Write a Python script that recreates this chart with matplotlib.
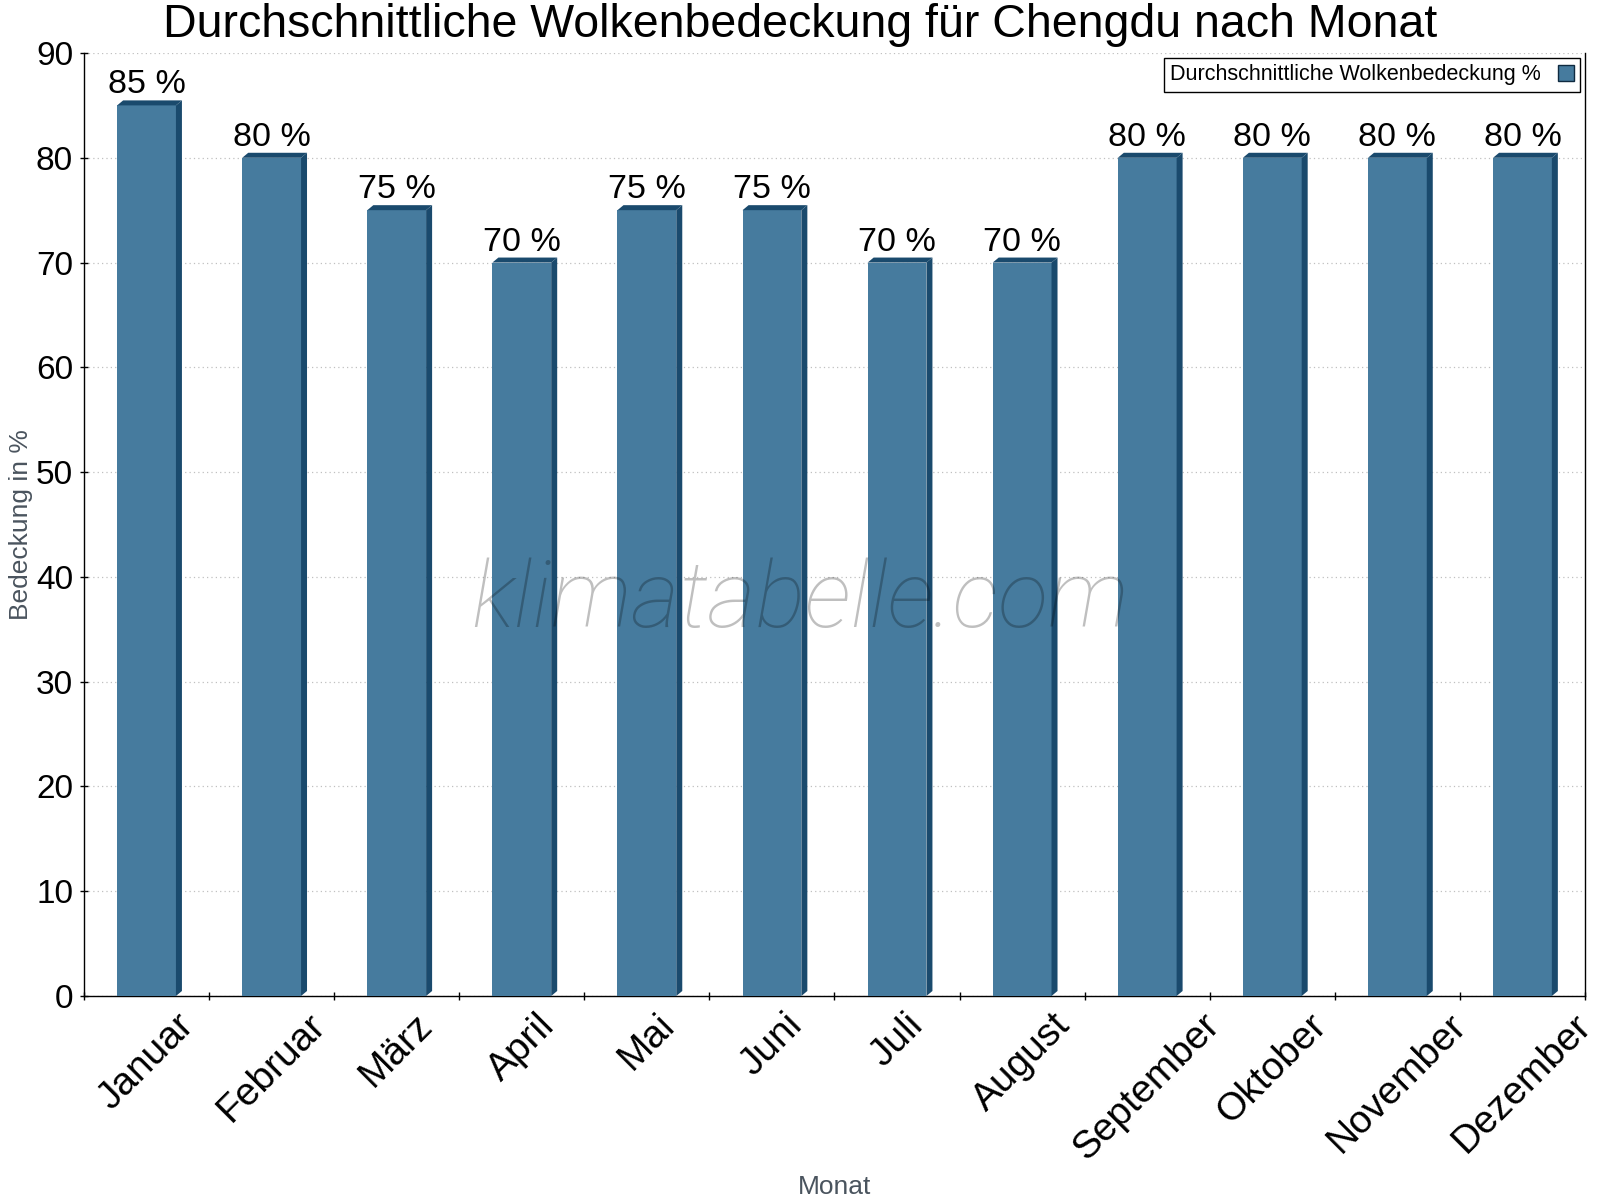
import numpy as np
import matplotlib
matplotlib.use("Agg")
import matplotlib.pyplot as plt
from matplotlib.patches import Polygon, Patch

months = ["Januar", "Februar", "März", "April", "Mai", "Juni", "Juli",
          "August", "September", "Oktober", "November", "Dezember"]
cover = [85, 80, 75, 70, 75, 75, 70, 70, 80, 80, 80, 80]
value_labels = [f"{v} %" for v in cover]

FRONT = "#467b9e"
DARK = "#1a4a6d"

plt.rcParams["font.family"] = ["Liberation Sans", "DejaVu Sans"]

fig = plt.figure(figsize=(16, 12), dpi=100)
ax = fig.add_axes([84 / 1600, 1 - 996 / 1200, (1585 - 84) / 1600, (996 - 53) / 1200])

x = np.arange(len(months))
width = 0.47
ax.set_xlim(-0.5, 11.5)
ax.set_ylim(0, 90)

# depth of the fake 3D faces, in data units (about 6 px right, 5 px up)
dx = 6 / (1501 / 12)
dy = 5 / (943 / 90)

ax.bar(x, cover, width=width, color=FRONT, zorder=3)
for xi, v in zip(x, cover):
    x0, x1 = xi - width / 2, xi + width / 2
    side = Polygon([(x1, 0), (x1 + dx, dy), (x1 + dx, v + dy), (x1, v)],
                   closed=True, facecolor=DARK, edgecolor="none", zorder=3)
    top = Polygon([(x0, v), (x1, v), (x1 + dx, v + dy), (x0 + dx, v + dy)],
                  closed=True, facecolor=DARK, edgecolor="none", zorder=3)
    ax.add_patch(side)
    ax.add_patch(top)

for xi, v, lab in zip(x, cover, value_labels):
    ax.annotate(lab, (xi, v), xytext=(0, 12), textcoords="offset pixels",
                ha="center", va="baseline", fontsize=24.5, color="black", zorder=5)

# grid, axes
ax.set_axisbelow(True)
ax.yaxis.grid(True, color="#c0c0c0", linestyle=(0, (1, 2.5)), linewidth=0.9)
ax.set_yticks(np.arange(0, 91, 10))
ax.tick_params(axis="y", direction="inout", length=5.8, width=1, pad=5,
               labelsize=24, colors="black")
ax.set_xticks(x)
ax.set_xticklabels(months, rotation=45, ha="center", va="top")
ax.tick_params(axis="x", which="major", length=0, pad=8, labelsize=28)
ax.set_xticks(np.arange(-0.5, 12, 1), minor=True)
ax.tick_params(axis="x", which="minor", direction="inout", length=5.8, width=1)

ax.spines["top"].set_visible(False)
for s in ("left", "bottom", "right"):
    ax.spines[s].set_color("black")
    ax.spines[s].set_linewidth(1)

ax.set_xlabel("Monat", fontsize=19, color="#4a545e")
ax.xaxis.set_label_coords(0.5, (996 - 1194) / 943)
ax.xaxis.label.set_va("baseline")
ax.set_ylabel("Bedeckung in %", fontsize=19, color="#4a545e")
ax.yaxis.set_label_coords((21 - 84) / 1501, 0.5)
ax.yaxis.label.set_va("center")

leg = ax.legend([Patch(facecolor=FRONT, edgecolor="#0f2a40", linewidth=1)],
                ["Durchschnittliche Wolkenbedeckung %"],
                loc="upper right", bbox_to_anchor=((1580 - 84) / 1501, (996 - 58) / 943),
                borderaxespad=0, fontsize=15.5, markerfirst=False, fancybox=False,
                framealpha=1, edgecolor="black", borderpad=0.3,
                handlelength=0.7, handleheight=0.8, handletextpad=0.8)
leg.get_frame().set_linewidth(1)

fig.text(0.5, 1 - 37 / 1200, "Durchschnittliche Wolkenbedeckung für Chengdu nach Monat",
         ha="center", va="baseline", fontsize=33.5, color="black")

fig.text(0.5, 1 - 627 / 1200, "klimatabelle.com", ha="center", va="baseline",
         fontsize=67, family=["Roboto", "DejaVu Sans"], fontweight="light",
         style="italic", color="black", alpha=0.25, zorder=10)

fig.savefig("out.png", dpi=100)
